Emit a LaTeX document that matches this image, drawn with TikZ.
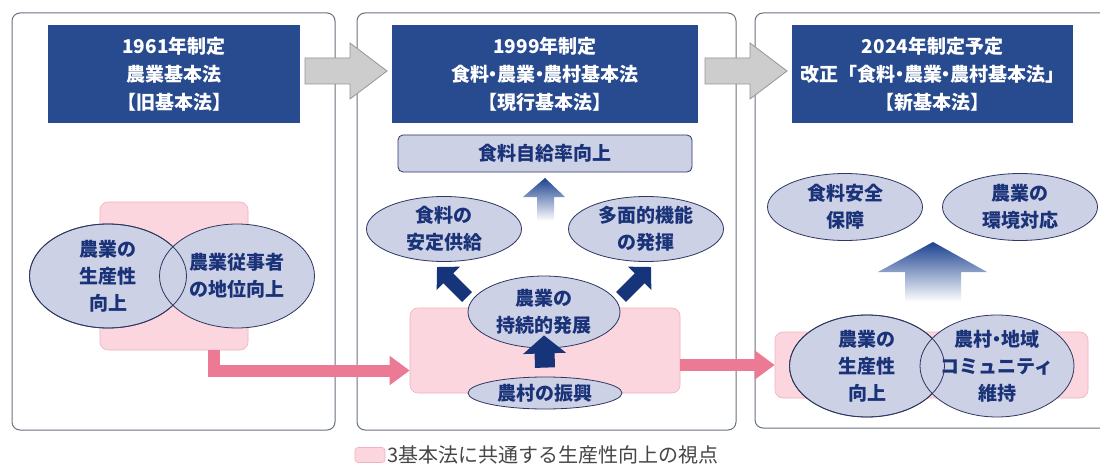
\documentclass[tikz,border=0pt]{standalone}
\usepackage{fontspec}
\setmainfont{Noto Sans CJK JP}
\usetikzlibrary{shapes.geometric,arrows.meta,calc}
\newcommand\nkg{\kern-0.28em・\kern-0.28em}
\definecolor{hdr}{RGB}{40,74,142}
\definecolor{ovfill}{RGB}{205,209,230}
\definecolor{ovline}{RGB}{45,55,95}
\definecolor{ovtext}{RGB}{25,50,120}
\definecolor{navyarr}{RGB}{22,52,122}
\definecolor{gradtop}{RGB}{28,66,145}
\definecolor{gradmid}{RGB}{100,125,188}
\definecolor{pinkfill}{RGB}{251,214,222}
\definecolor{pinkline}{RGB}{240,178,192}
\definecolor{pinkarr}{RGB}{236,122,148}
\definecolor{grayfill}{RGB}{205,205,205}
\definecolor{grayline}{RGB}{150,150,150}
\definecolor{panelline}{RGB}{105,115,125}
\definecolor{legtext}{RGB}{70,70,70}
\begin{document}
\begin{tikzpicture}[x=1pt,y=-1pt,
  panel/.style={draw=panelline, line width=1pt, rounded corners=8pt, fill=white, inner sep=0pt},
  header/.style={fill=hdr, text=white, inner sep=0pt, align=center,
    font=\bfseries\fontsize{19}{28}\selectfont},
  oval/.style={ellipse, draw=ovline, line width=0.8pt, fill=ovfill, text=ovtext, inner sep=-5pt,
    align=center, font=\bfseries\fontsize{19}{27}\selectfont},
  goalbox/.style={draw=ovline, line width=0.8pt, fill=ovfill, text=ovtext, rounded corners=5pt,
    inner sep=0pt, font=\bfseries\fontsize{19}{27}\selectfont},
  pinkbox/.style={draw=pinkline, line width=0.6pt, fill=pinkfill, rounded corners=8pt, inner sep=0pt},
  pinkarrow/.style={draw=pinkarr, line width=12pt, -{Triangle[length=20pt,width=28pt]}},
  navyarrow/.style={draw=navyarr, line width=14pt, -{Triangle[length=16pt,width=32pt]}},
  grayarrow/.style={draw=grayline, line width=0.8pt, fill=grayfill, line join=miter},
  gradarrow/.style={top color=gradtop, middle color=gradmid, bottom color=white, draw=none}
]
\useasboundingbox (0,0) rectangle (1100,468);
\clip (0,0) rectangle (1100,468);
\fill[white] (0,0) rectangle (1100,468);

% panels
\node[panel, minimum width=323pt, minimum height=417pt] (p1) at (173.5,221.5) {};
\node[panel, minimum width=379pt, minimum height=417pt] (p2) at (546.5,221.5) {};
\node[panel, minimum width=380pt, minimum height=415pt] (p3) at (945,220.5) {};

% headers
\node[header, minimum width=252pt, minimum height=98pt] (h1) at (174,74)
  {1961年制定\\農業基本法\\【旧基本法】};
\node[header, minimum width=306pt, minimum height=98pt] (h2) at (545,74)
  {1999年制定\\食料\nkg 農業\nkg 農村基本法\\【現行基本法】};
\node[header, minimum width=281pt, minimum height=98pt] (h3) at (932.5,74)
  {2024年制定予定\\改正「食料\nkg 農業\nkg 農村基本法」\\【新基本法】};

% gray arrows between panels
\draw[grayarrow] (305,58) -- (350,58) -- (350,43) -- (387,71) -- (350,99) -- (350,84) -- (305,84) -- cycle;
\draw[grayarrow] (705,58) -- (750,58) -- (750,43) -- (787,71) -- (750,99) -- (750,84) -- (705,84) -- cycle;

% pink boxes
\node[pinkbox, minimum width=148pt, minimum height=148pt] (r1) at (174,276) {};
\node[pinkbox, minimum width=270pt, minimum height=85pt] (r2) at (545,350.5) {};
\node[pinkbox, minimum width=313pt, minimum height=66pt] (r3) at (931.5,365) {};

% pink arrows
\draw[pinkarrow] ([xshift=40pt]r1.south) |- ([yshift=-20pt]r2.west);
\draw[pinkarrow] (r2.east |- r3.west) -- (r3.west);

% panel 1 ovals
\node[oval, minimum width=157pt, minimum height=104pt] (a1) at (108,276) {農業の\\生産性\\向上};
\node[oval, minimum width=155pt, minimum height=104pt] (a2) at (237,276) {農業従事者\\の地位向上};
\draw[ovline, line width=0.8pt] (a1.center) ellipse [x radius=78.5, y radius=52];

% panel 2
\node[goalbox, minimum width=294pt, minimum height=37pt] (g) at (545,153.5) {食料自給率向上};
\shade[gradarrow] (545,178) -- (565,197) -- (554,197) -- (554,221) -- (537,221) -- (537,197) -- (523,197) -- cycle;
\node[oval, minimum width=155pt, minimum height=65pt] (b1) at (444,229) {食料の\\安定供給};
\node[oval, minimum width=155pt, minimum height=65pt] (b2) at (646,229) {多面的機能\\の発揮};
\node[oval, minimum width=152pt, minimum height=72pt] (b3) at (544,312) {農業の\\持続的発展};
\node[oval, minimum width=154pt, minimum height=32pt] (b4) at (545,393) {農村の振興};
\coordinate (d1s) at (467,297);
\coordinate (d1e) at (437,267);
\coordinate (d2s) at (621,297);
\coordinate (d2e) at (651,267);
\draw[navyarrow] (d1s) -- (d1e);
\draw[navyarrow] (d2s) -- (d2e);
\draw[navyarr, line width=20pt, -{Triangle[length=18pt,width=42pt]}] ([yshift=9pt]b4.north) -- ([yshift=13pt]b3.south);

% panel 3
\node[oval, minimum width=155pt, minimum height=67pt] (c1) at (845,207) {食料安全\\保障};
\node[oval, minimum width=155pt, minimum height=67pt] (c2) at (1020,207) {農業の\\環境対応};
\shade[gradarrow] (933,242) -- (987,272) -- (961,272) -- (961,302) -- (905,302) -- (905,272) -- (878,272) -- cycle;
\node[oval, minimum width=155pt, minimum height=102pt] (c3) at (867,366) {農業の\\生産性\\向上};
\node[oval, minimum width=154pt, minimum height=102pt] (c4) at (997,366) {農村\nkg 地域\\コミュニティ\\維持};
\draw[ovline, line width=0.8pt] (c3.center) ellipse [x radius=77.5, y radius=51];

% legend
\node[pinkbox, rounded corners=3pt, minimum width=30pt, minimum height=15pt] (lg) at (370,455) {};
\node[anchor=west, inner sep=0pt, text=legtext, font=\fontsize{20}{22}\selectfont] (lt) at ([xshift=2pt]lg.east) {3基本法に共通する生産性向上の視点};
\end{tikzpicture}
\end{document}
